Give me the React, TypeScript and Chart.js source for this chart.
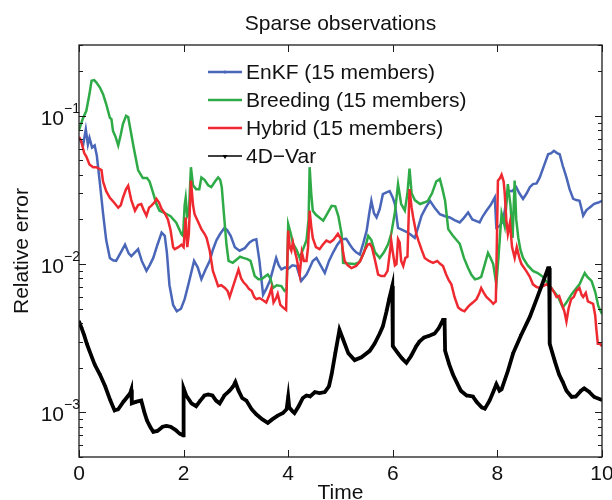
import React, { useEffect, useRef } from "react";
import { Chart, registerables } from "chart.js";
Chart.register(...registerables);

const chartTitle = "Sparse observations";
const xAxisTitle = "Time";
const yAxisTitle = "Relative error";
const seriesNames = ["EnKF (15 members)", "Breeding (15 members)", "Hybrid (15 members)", "4D\u2212Var"];
const xTicks = [0, 2, 4, 6, 8, 10];
const yMajorTicks = [1e-3, 1e-2, 1e-1];
const yTickExponents = ["\u22123", "\u22122", "\u22121"];
const xRange = [0, 10];
const yRange = [5e-4, 0.3];

// [time, relative error]
const enkf = [
  [0, 0.07], [0.08, 0.064], [0.13, 0.081], [0.17, 0.064], [0.2, 0.071], [0.25, 0.061], [0.3, 0.063], [0.34, 0.054], [0.4, 0.035], [0.46, 0.022],
  [0.52, 0.0145], [0.59, 0.011], [0.65, 0.0106], [0.71, 0.0105], [0.8, 0.012], [0.88, 0.0135], [0.95, 0.0118], [1.0, 0.0113], [1.07, 0.012], [1.13, 0.0126],
  [1.2, 0.0105], [1.29, 0.009], [1.35, 0.0098], [1.42, 0.011], [1.5, 0.0135], [1.58, 0.0163], [1.64, 0.0155], [1.68, 0.012], [1.73, 0.0072], [1.8, 0.0053],
  [1.87, 0.0048], [1.95, 0.005], [2.02, 0.0058], [2.1, 0.0075], [2.2, 0.0105], [2.27, 0.0095], [2.34, 0.0079], [2.42, 0.0092], [2.5, 0.0105], [2.56, 0.0125],
  [2.63, 0.0145], [2.7, 0.016], [2.78, 0.0175], [2.83, 0.017], [2.9, 0.0155], [2.98, 0.013], [3.07, 0.0123], [3.17, 0.0128], [3.26, 0.014], [3.33, 0.0145],
  [3.39, 0.0147], [3.45, 0.0105], [3.52, 0.0062], [3.58, 0.0068], [3.65, 0.0077], [3.72, 0.0095], [3.77, 0.011], [3.82, 0.0098], [3.87, 0.0092], [3.94, 0.0095],
  [4.0, 0.0093], [4.08, 0.0098], [4.16, 0.0097], [4.25, 0.0077], [4.35, 0.0085], [4.41, 0.0094], [4.47, 0.0105], [4.54, 0.011], [4.62, 0.0098], [4.7, 0.0087],
  [4.78, 0.0105], [4.86, 0.012], [4.94, 0.0135], [5.02, 0.0147], [5.11, 0.0148], [5.18, 0.0135], [5.24, 0.0126], [5.3, 0.012], [5.37, 0.0116], [5.44, 0.014],
  [5.5, 0.0168], [5.55, 0.022], [5.59, 0.0267], [5.64, 0.022], [5.69, 0.0206], [5.75, 0.0235], [5.81, 0.0296], [5.88, 0.0304], [5.94, 0.031], [6.0, 0.028],
  [6.04, 0.0254], [6.1, 0.0175], [6.18, 0.017], [6.26, 0.0165], [6.34, 0.0158], [6.42, 0.015], [6.48, 0.0175], [6.55, 0.0212], [6.63, 0.024], [6.71, 0.0267],
  [6.8, 0.024], [6.9, 0.0217], [7.0, 0.021], [7.09, 0.0206], [7.18, 0.0198], [7.28, 0.0191], [7.36, 0.0205], [7.44, 0.0223], [7.52, 0.02], [7.6, 0.0195],
  [7.66, 0.0191], [7.72, 0.021], [7.79, 0.0229], [7.87, 0.025], [7.95, 0.0281], [7.98, 0.0176], [8.04, 0.018], [8.11, 0.0196], [8.2, 0.0312], [8.28, 0.031],
  [8.36, 0.033], [8.42, 0.03], [8.49, 0.0275], [8.56, 0.03], [8.62, 0.033], [8.68, 0.0346], [8.75, 0.035], [8.81, 0.0384], [8.9, 0.047], [8.97, 0.055],
  [9.03, 0.056], [9.08, 0.058], [9.14, 0.056], [9.19, 0.055], [9.25, 0.046], [9.32, 0.0384], [9.38, 0.032], [9.45, 0.0275], [9.51, 0.027], [9.57, 0.0267],
  [9.61, 0.0235], [9.64, 0.0212], [9.7, 0.023], [9.76, 0.024], [9.85, 0.0255], [9.93, 0.026], [10, 0.0267],
];

const breeding = [
  [0, 0.08], [0.07, 0.095], [0.14, 0.108], [0.2, 0.14], [0.24, 0.172], [0.29, 0.174], [0.33, 0.168], [0.4, 0.155], [0.46, 0.14], [0.52, 0.12],
  [0.59, 0.097], [0.62, 0.095], [0.65, 0.079], [0.7, 0.072], [0.75, 0.063], [0.8, 0.075], [0.84, 0.088], [0.9, 0.1], [0.94, 0.098], [1.0, 0.075],
  [1.05, 0.06], [1.13, 0.043], [1.22, 0.038], [1.3, 0.038], [1.35, 0.036], [1.42, 0.03], [1.48, 0.0254], [1.54, 0.0229], [1.61, 0.0223], [1.7, 0.0215],
  [1.75, 0.021], [1.86, 0.019], [1.96, 0.0159], [1.99, 0.0155], [2.02, 0.025], [2.04, 0.028], [2.07, 0.021], [2.1, 0.022], [2.14, 0.045], [2.18, 0.034],
  [2.24, 0.032], [2.3, 0.032], [2.34, 0.0384], [2.4, 0.037], [2.47, 0.034], [2.53, 0.033], [2.6, 0.036], [2.66, 0.0384], [2.7, 0.037], [2.73, 0.033],
  [2.77, 0.022], [2.82, 0.0135], [2.86, 0.0105], [2.94, 0.0102], [3.01, 0.0107], [3.08, 0.0112], [3.14, 0.011], [3.22, 0.0108], [3.28, 0.0105], [3.36, 0.0083],
  [3.43, 0.0079], [3.49, 0.0079], [3.55, 0.0082], [3.61, 0.0085], [3.66, 0.008], [3.71, 0.0069], [3.78, 0.0072], [3.87, 0.0071], [3.93, 0.0066], [3.97, 0.0068],
  [4.0, 0.0186], [4.05, 0.016], [4.09, 0.0138], [4.16, 0.0125], [4.22, 0.011], [4.3, 0.013], [4.35, 0.0145], [4.39, 0.02], [4.41, 0.045], [4.44, 0.03],
  [4.47, 0.0229], [4.53, 0.0215], [4.6, 0.0205], [4.67, 0.0196], [4.75, 0.022], [4.83, 0.0247], [4.9, 0.0245], [4.96, 0.021], [5.02, 0.016], [5.05, 0.0102],
  [5.15, 0.0101], [5.27, 0.01], [5.36, 0.0103], [5.45, 0.012], [5.53, 0.0155], [5.59, 0.0145], [5.66, 0.012], [5.75, 0.011], [5.83, 0.012], [5.91, 0.0136],
  [5.97, 0.016], [6.04, 0.0223], [6.1, 0.0346], [6.16, 0.0254], [6.23, 0.023], [6.28, 0.03], [6.32, 0.044], [6.36, 0.03], [6.42, 0.027], [6.52, 0.0254],
  [6.6, 0.026], [6.67, 0.0267], [6.75, 0.03], [6.83, 0.036], [6.9, 0.0374], [6.95, 0.032], [7.0, 0.0267], [7.06, 0.0172], [7.15, 0.0155], [7.28, 0.0137],
  [7.36, 0.011], [7.44, 0.0094], [7.5, 0.0085], [7.57, 0.0079], [7.64, 0.008], [7.69, 0.0082], [7.76, 0.01], [7.82, 0.0119], [7.87, 0.011], [7.92, 0.01],
  [7.98, 0.0073], [8.02, 0.011], [8.08, 0.022], [8.14, 0.018], [8.2, 0.0346], [8.25, 0.025], [8.29, 0.015], [8.33, 0.0365], [8.36, 0.02], [8.4, 0.015],
  [8.44, 0.0125], [8.49, 0.011], [8.58, 0.0098], [8.68, 0.009], [8.77, 0.0087], [8.87, 0.0082], [8.95, 0.0075], [9.03, 0.0069], [9.1, 0.0064], [9.16, 0.006],
  [9.25, 0.0051], [9.32, 0.0055], [9.41, 0.0062], [9.5, 0.0068], [9.57, 0.0073], [9.62, 0.008], [9.67, 0.0087], [9.72, 0.0082], [9.8, 0.0077], [9.87, 0.0065],
  [9.93, 0.0052], [10, 0.0046],
];

const hybrid = [
  [0, 0.072], [0.04, 0.068], [0.1, 0.056], [0.14, 0.053], [0.2, 0.047], [0.27, 0.045], [0.33, 0.045], [0.38, 0.044], [0.43, 0.043], [0.46, 0.036],
  [0.52, 0.031], [0.59, 0.028], [0.67, 0.026], [0.75, 0.024], [0.8, 0.025], [0.84, 0.028], [0.9, 0.032], [0.94, 0.0337], [1.0, 0.027], [1.07, 0.0229],
  [1.13, 0.025], [1.19, 0.0254], [1.24, 0.023], [1.29, 0.0212], [1.34, 0.024], [1.38, 0.0247], [1.44, 0.026], [1.48, 0.0275], [1.53, 0.026], [1.58, 0.0235],
  [1.64, 0.022], [1.7, 0.02], [1.75, 0.017], [1.8, 0.013], [1.83, 0.0126], [1.9, 0.013], [1.96, 0.0135], [2.0, 0.013], [2.04, 0.0206], [2.07, 0.013],
  [2.1, 0.016], [2.14, 0.0365], [2.18, 0.025], [2.21, 0.0217], [2.27, 0.0195], [2.34, 0.0172], [2.4, 0.016], [2.44, 0.015], [2.5, 0.0123], [2.56, 0.009],
  [2.61, 0.008], [2.66, 0.0071], [2.72, 0.0072], [2.79, 0.0069], [2.84, 0.0066], [2.88, 0.006], [2.93, 0.0068], [2.98, 0.0077], [3.05, 0.0092], [3.1, 0.008],
  [3.15, 0.0075], [3.2, 0.0072], [3.25, 0.0068], [3.3, 0.0066], [3.35, 0.006], [3.39, 0.0058], [3.45, 0.0059], [3.52, 0.0057], [3.58, 0.0055], [3.64, 0.0062],
  [3.68, 0.0069], [3.72, 0.0055], [3.77, 0.0059], [3.8, 0.0063], [3.85, 0.0053], [3.9, 0.0051], [3.96, 0.0049], [4.0, 0.0168], [4.03, 0.013], [4.06, 0.0123],
  [4.09, 0.014], [4.12, 0.0125], [4.16, 0.011], [4.22, 0.0085], [4.26, 0.012], [4.3, 0.0105], [4.35, 0.0105], [4.38, 0.013], [4.41, 0.0229], [4.44, 0.018],
  [4.47, 0.015], [4.53, 0.013], [4.6, 0.0126], [4.66, 0.0135], [4.73, 0.0144], [4.8, 0.014], [4.86, 0.0145], [4.95, 0.016], [5.02, 0.0145], [5.05, 0.012],
  [5.08, 0.0105], [5.14, 0.0098], [5.21, 0.0094], [5.3, 0.0097], [5.38, 0.0105], [5.46, 0.0123], [5.52, 0.0135], [5.56, 0.0137], [5.6, 0.013], [5.65, 0.011],
  [5.72, 0.0085], [5.78, 0.0083], [5.84, 0.0083], [5.9, 0.009], [5.95, 0.0125], [5.97, 0.0144], [6.0, 0.012], [6.04, 0.0098], [6.07, 0.01], [6.1, 0.0147],
  [6.13, 0.014], [6.16, 0.0105], [6.2, 0.0097], [6.24, 0.011], [6.28, 0.0112], [6.32, 0.032], [6.36, 0.024], [6.39, 0.0206], [6.45, 0.016], [6.49, 0.0144],
  [6.55, 0.0125], [6.61, 0.011], [6.69, 0.0105], [6.77, 0.0102], [6.85, 0.0105], [6.91, 0.01], [6.96, 0.0097], [7.02, 0.0085], [7.07, 0.0078], [7.12, 0.0073],
  [7.18, 0.006], [7.25, 0.0051], [7.31, 0.0049], [7.37, 0.0048], [7.45, 0.0052], [7.53, 0.0055], [7.6, 0.0058], [7.65, 0.0063], [7.69, 0.0069], [7.74, 0.0064],
  [7.79, 0.006], [7.86, 0.0057], [7.92, 0.0054], [7.97, 0.0056], [8.01, 0.0365], [8.05, 0.038], [8.08, 0.04], [8.12, 0.036], [8.14, 0.03], [8.17, 0.02],
  [8.2, 0.016], [8.24, 0.019], [8.28, 0.013], [8.33, 0.011], [8.37, 0.013], [8.42, 0.011], [8.46, 0.01], [8.55, 0.009], [8.62, 0.0082], [8.68, 0.0073],
  [8.75, 0.007], [8.81, 0.0069], [8.87, 0.0071], [8.94, 0.0073], [9.03, 0.0069], [9.08, 0.0065], [9.13, 0.006], [9.18, 0.0061], [9.23, 0.0054], [9.28, 0.0048],
  [9.32, 0.0041], [9.36, 0.005], [9.41, 0.0058], [9.46, 0.006], [9.51, 0.0066], [9.57, 0.0069], [9.61, 0.0062], [9.64, 0.006], [9.69, 0.0064], [9.73, 0.0056],
  [9.78, 0.0055], [9.83, 0.0054], [9.87, 0.0045], [9.89, 0.0037], [9.92, 0.0029], [9.96, 0.0029], [10, 0.0028],
];

const fourDVar = [
  [0, 0.0041], [0.05, 0.0037], [0.1, 0.0033], [0.15, 0.0029], [0.2, 0.0026], [0.3, 0.0021], [0.4, 0.0018], [0.5, 0.0015], [0.6, 0.0012], [0.68, 0.00103],
  [0.75, 0.00105], [0.85, 0.00118], [0.93, 0.00128], [0.98, 0.00135], [1.0, 0.00142], [1.01, 0.00115], [1.1, 0.00118], [1.19, 0.0012], [1.25, 0.001], [1.3, 0.00088],
  [1.36, 0.0008], [1.42, 0.00074], [1.5, 0.00075], [1.6, 0.0008], [1.67, 0.00081], [1.75, 0.0008], [1.85, 0.00076], [1.92, 0.00072], [1.99, 0.0007], [2.0, 0.00145],
  [2.05, 0.0013], [2.15, 0.00115], [2.24, 0.0011], [2.32, 0.0012], [2.4, 0.0013], [2.47, 0.00132], [2.55, 0.0013], [2.62, 0.0012], [2.69, 0.00115], [2.78, 0.0013],
  [2.88, 0.0014], [2.95, 0.0015], [2.99, 0.0016], [3.05, 0.0014], [3.12, 0.00125], [3.2, 0.0012], [3.3, 0.00105], [3.39, 0.00097], [3.5, 0.0009], [3.61, 0.00085],
  [3.7, 0.0009], [3.8, 0.00095], [3.9, 0.00099], [3.97, 0.00105], [4.0, 0.00127], [4.02, 0.00108], [4.08, 0.00102], [4.12, 0.00099], [4.2, 0.0011], [4.28, 0.00125],
  [4.35, 0.0013], [4.42, 0.00128], [4.51, 0.00137], [4.6, 0.00135], [4.7, 0.00137], [4.78, 0.0015], [4.83, 0.0018], [4.9, 0.0025], [4.98, 0.0036], [5.05, 0.0031],
  [5.15, 0.0025], [5.27, 0.00225], [5.4, 0.00235], [5.56, 0.0026], [5.65, 0.0029], [5.75, 0.0034], [5.81, 0.0038], [5.88, 0.0048], [5.93, 0.0058], [5.99, 0.0071],
  [6.0, 0.0028], [6.1, 0.0025], [6.18, 0.0023], [6.26, 0.00216], [6.35, 0.0024], [6.45, 0.0028], [6.51, 0.003], [6.6, 0.0032], [6.71, 0.0033], [6.8, 0.0034],
  [6.88, 0.0037], [6.96, 0.0042], [6.99, 0.0042], [7.0, 0.0026], [7.08, 0.0021], [7.15, 0.0018], [7.22, 0.0016], [7.3, 0.0014], [7.41, 0.0013], [7.53, 0.00128],
  [7.6, 0.00118], [7.7, 0.00108], [7.76, 0.00106], [7.85, 0.0012], [7.93, 0.0014], [7.98, 0.00155], [8.04, 0.0014], [8.08, 0.00143], [8.2, 0.0019], [8.3, 0.0025],
  [8.45, 0.0033], [8.62, 0.0044], [8.75, 0.0058], [8.88, 0.0077], [8.97, 0.0094], [8.99, 0.0094], [9.0, 0.0029], [9.1, 0.0022], [9.18, 0.0018], [9.25, 0.0016],
  [9.32, 0.0014], [9.42, 0.00127], [9.5, 0.00128], [9.6, 0.0014], [9.66, 0.00145], [9.75, 0.00138], [9.85, 0.00127], [10, 0.00121],
];

const seriesData = [enkf, breeding, hybrid, fourDVar];
const seriesColors = ["#4a66b8", "#2eab47", "#ee2a30", "#000000"];
const seriesWidths = [2.5, 2.5, 2.5, 3.8];

const FONT = '"Liberation Sans", Arial, Helvetica, sans-serif';

const decorPlugin = {
  id: "decor",
  afterDatasetsDraw(chart: any) {
    const { ctx, chartArea: a, scales } = chart;
    const xs = scales.x;
    const ys = scales.y;
    ctx.save();
    // box
    ctx.strokeStyle = "#1c1c1c";
    ctx.lineWidth = 1.3;
    ctx.strokeRect(a.left, a.top, a.right - a.left, a.bottom - a.top);

    ctx.lineWidth = 1;
    ctx.beginPath();
    // x ticks (inside, top and bottom)
    xTicks.forEach((v) => {
      const px = Math.round(xs.getPixelForValue(v)) + 0.5;
      ctx.moveTo(px, a.bottom);
      ctx.lineTo(px, a.bottom - 7);
      ctx.moveTo(px, a.top);
      ctx.lineTo(px, a.top + 7);
    });
    // y ticks major and minor (log)
    const lo = Math.floor(Math.log10(ys.min));
    const hi = Math.ceil(Math.log10(ys.max));
    for (let d = lo; d <= hi; d++) {
      for (let m = 1; m <= 9; m++) {
        const v = m * Math.pow(10, d);
        if (v < ys.min * 0.999 || v > ys.max * 1.001) continue;
        const py = Math.round(ys.getPixelForValue(v)) + 0.5;
        const len = m === 1 ? 7 : 4;
        ctx.moveTo(a.left, py);
        ctx.lineTo(a.left + len, py);
        ctx.moveTo(a.right, py);
        ctx.lineTo(a.right - len, py);
      }
    }
    ctx.stroke();

    ctx.fillStyle = "#111";
    // x tick labels
    ctx.font = `21px ${FONT}`;
    ctx.textAlign = "center";
    ctx.textBaseline = "alphabetic";
    xTicks.forEach((v) => {
      ctx.fillText(String(v), xs.getPixelForValue(v), a.bottom + 23);
    });
    // y tick labels 10^n
    yMajorTicks.forEach((v, i) => {
      const py = ys.getPixelForValue(v);
      ctx.font = `21px ${FONT}`;
      ctx.textAlign = "right";
      ctx.fillText("10", a.left - 15, py + 9);
      ctx.font = `14px ${FONT}`;
      ctx.textAlign = "left";
      ctx.fillText(yTickExponents[i], a.left - 15, py - 3);
    });

    // title
    const cx = (a.left + a.right) / 2;
    ctx.font = `21px ${FONT}`;
    ctx.textAlign = "center";
    ctx.fillText(chartTitle, cx, 30);
    // x label
    ctx.fillText(xAxisTitle, cx, a.bottom + 42);
    // y label
    ctx.save();
    ctx.translate(28, (a.top + a.bottom) / 2);
    ctx.rotate(-Math.PI / 2);
    ctx.fillText(yAxisTitle, 0, 0);
    ctx.restore();

    // legend
    const lx0 = 208, lx1 = 242, ly0 = 72, lstep = 28;
    seriesNames.forEach((name, i) => {
      const y = ly0 + i * lstep;
      ctx.strokeStyle = seriesColors[i];
      ctx.lineWidth = i === 3 ? 1.5 : 2.4;
      ctx.beginPath();
      ctx.moveTo(lx0, y);
      ctx.lineTo(lx1, y);
      ctx.stroke();
      const mx = (lx0 + lx1) / 2;
      if (i === 0) {
        ctx.fillStyle = seriesColors[i];
        ctx.beginPath();
        ctx.arc(mx, y, 1.6, 0, Math.PI * 2);
        ctx.fill();
      }
      if (i === 3) {
        ctx.fillStyle = "#000";
        ctx.beginPath();
        ctx.moveTo(mx - 2.5, y - 1);
        ctx.lineTo(mx + 2.5, y - 1);
        ctx.lineTo(mx, y + 3);
        ctx.closePath();
        ctx.fill();
      }
      ctx.fillStyle = "#111";
      ctx.font = `21px ${FONT}`;
      ctx.textAlign = "left";
      ctx.textBaseline = "middle";
      ctx.fillText(name, lx1 + 4, y + 1);
      ctx.textBaseline = "alphabetic";
    });
    ctx.restore();
  },
};

export default function App() {
  const ref = useRef<HTMLCanvasElement | null>(null);
  useEffect(() => {
    document.body.style.margin = "0";
    const canvas = ref.current;
    if (!canvas) return;
    const datasets = seriesData.map((s, i) => ({
      label: seriesNames[i],
      data: s.map(([x, y]) => ({ x, y })),
      borderColor: seriesColors[i],
      backgroundColor: seriesColors[i],
      borderWidth: seriesWidths[i],
      pointRadius: i === 3 ? 2.2 : 0,
      pointStyle: "triangle",
      rotation: 180,
      pointBorderWidth: 0,
      fill: false,
      tension: 0,
      order: 4 - i,
    }));
    const chart = new Chart(canvas, {
      type: "line",
      data: { datasets },
      options: {
        animation: false,
        responsive: false,
        devicePixelRatio: 1,
        layout: { padding: { left: 79, right: 10, top: 45, bottom: 43 } },
        scales: {
          x: { type: "linear", min: xRange[0], max: xRange[1], display: false },
          y: { type: "logarithmic", min: yRange[0], max: yRange[1], display: false },
        },
        plugins: {
          legend: { display: false },
          tooltip: { enabled: false },
          title: { display: false },
        },
        events: [],
      },
      plugins: [decorPlugin],
    } as any);
    return () => chart.destroy();
  }, []);
  return (
    <div style={{ width: 612, height: 500, background: "#fff" }}>
      <canvas ref={ref} width={612} height={500} style={{ display: "block" }} />
    </div>
  );
}
